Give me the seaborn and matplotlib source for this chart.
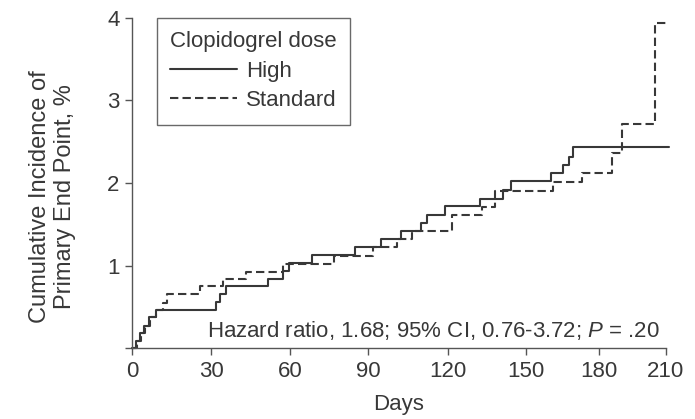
import numpy as np
import pandas as pd
import seaborn as sns
import matplotlib
matplotlib.use("Agg")
import matplotlib.pyplot as plt

# Cumulative incidence (%) of the primary end point by clopidogrel dose
high_days = [0, 1.5, 3, 4.5, 6.5, 9.3, 31.9, 33.4, 35.7, 51.8, 57.2, 59.7, 68.3,
             85, 94.7, 102.2, 109.9, 112, 118.9, 132.3, 141, 144.1, 160.2, 165,
             167.5, 169.5, 211.5]
high_pct = [0, 0.09, 0.18, 0.27, 0.37, 0.46, 0.56, 0.66, 0.75, 0.84, 0.93, 1.03,
            1.13, 1.23, 1.32, 1.42, 1.52, 1.61, 1.72, 1.81, 1.91, 2.02, 2.12,
            2.22, 2.32, 2.44, 2.44]

std_days = [0, 2, 3.5, 5, 7, 9, 11.8, 13.2, 25.8, 34.7, 43.3, 57.2, 76.9, 92,
            100.8, 106.5, 121.4, 133, 138, 161.2, 172.9, 185.7, 190.2, 205.1, 210]
std_pct = [0, 0.09, 0.18, 0.27, 0.37, 0.46, 0.55, 0.65, 0.75, 0.84, 0.92, 1.02,
           1.12, 1.22, 1.32, 1.42, 1.61, 1.71, 1.90, 2.01, 2.12, 2.36, 2.72,
           3.94, 3.94]

x_ticks = [0, 30, 60, 90, 120, 150, 180, 210]
x_ticklabels = ["0", "30", "60", "90", "120", "150", "180", "210"]
y_ticks = [0, 1, 2, 3, 4]
y_ticklabels = ["", "1", "2", "3", "4"]

legend_title = "Clopidogrel dose"
group_labels = ["High", "Standard"]
annotation = r"Hazard ratio, 1.68; 95% CI, 0.76-3.72; $\mathit{P}$ = .20"

high = pd.DataFrame({"Days": high_days, "Incidence": high_pct})
standard = pd.DataFrame({"Days": std_days, "Incidence": std_pct})

sns.set_theme(style="ticks")
plt.rcParams["font.family"] = ["Liberation Sans", "DejaVu Sans"]
plt.rcParams["mathtext.fontset"] = "custom"
plt.rcParams["mathtext.rm"] = "Liberation Sans"
plt.rcParams["mathtext.it"] = "Liberation Sans:italic"

FS = 16
INK = "#383838"
AXIS = "#555555"

fig = plt.figure(figsize=(6.95, 4.19), dpi=100)
ax = fig.add_axes([132 / 695, 1 - 348 / 419, 534 / 695, 330 / 419])

# The day axis is drawn with slightly tighter spacing toward the end of follow-up
_spacing = np.array([0, 79, 158, 236, 316, 394, 467, 534], dtype=float)
_days = np.array(x_ticks, dtype=float)
_slope_hi = (_spacing[-1] - _spacing[-2]) / (_days[-1] - _days[-2])
_slope_lo = (_spacing[1] - _spacing[0]) / (_days[1] - _days[0])


def _fwd(x):
    x = np.asarray(x, dtype=float)
    return np.where(x > _days[-1], _spacing[-1] + (x - _days[-1]) * _slope_hi,
                    np.where(x < _days[0], _spacing[0] + (x - _days[0]) * _slope_lo,
                             np.interp(x, _days, _spacing)))


def _inv(u):
    u = np.asarray(u, dtype=float)
    return np.where(u > _spacing[-1], _days[-1] + (u - _spacing[-1]) / _slope_hi,
                    np.where(u < _spacing[0], _days[0] + (u - _spacing[0]) / _slope_lo,
                             np.interp(u, _spacing, _days)))


ax.set_xscale("function", functions=(_fwd, _inv))

sns.lineplot(data=high, x="Days", y="Incidence", ax=ax, estimator=None, sort=False,
             drawstyle="steps-post", color=INK, linewidth=1.5, label=group_labels[0],
             clip_on=False)
sns.lineplot(data=standard, x="Days", y="Incidence", ax=ax, estimator=None, sort=False,
             drawstyle="steps-post", color=INK, linewidth=1.5, linestyle=(0, (4, 2)),
             label=group_labels[1], clip_on=False)

ax.set_xlim(0, 210)
ax.set_ylim(0, 4)
ax.set_xticks(x_ticks)
ax.set_xticklabels(x_ticklabels)
ax.set_yticks(y_ticks)
ax.set_yticklabels(y_ticklabels)
ax.xaxis.set_minor_locator(matplotlib.ticker.NullLocator())

for side in ("top", "right"):
    ax.spines[side].set_visible(False)
for side in ("left", "bottom"):
    ax.spines[side].set_color(AXIS)
    ax.spines[side].set_linewidth(1.0)
ax.tick_params(axis="both", direction="out", length=5, width=1.0, color=AXIS,
               labelsize=FS, labelcolor=INK, pad=4)

ax.set_xlabel("Days", fontsize=FS, color=INK, labelpad=9)
ax.set_ylabel("Cumulative Incidence of\nPrimary End Point, %", fontsize=17,
              color=INK, linespacing=1.2)
ax.yaxis.set_label_coords(-0.105, 0.46)

ax.text(0.989, 0.052, annotation, transform=ax.transAxes, ha="right", va="center",
        fontsize=FS, color=INK)

leg = ax.legend(title=legend_title, loc="upper left", bbox_to_anchor=(25 / 534, 1.0),
                borderaxespad=0, frameon=True, fancybox=False, edgecolor="#444444",
                handlelength=3.0, handletextpad=0.4, labelspacing=0.38, borderpad=0.6,
                fontsize=FS, title_fontsize=FS, alignment="left")
leg.get_frame().set_linewidth(1.0)
leg.get_frame().set_facecolor("white")
for t in leg.get_texts():
    t.set_color(INK)
leg.get_title().set_color(INK)

fig.savefig("out.png", dpi=100, facecolor="white")
